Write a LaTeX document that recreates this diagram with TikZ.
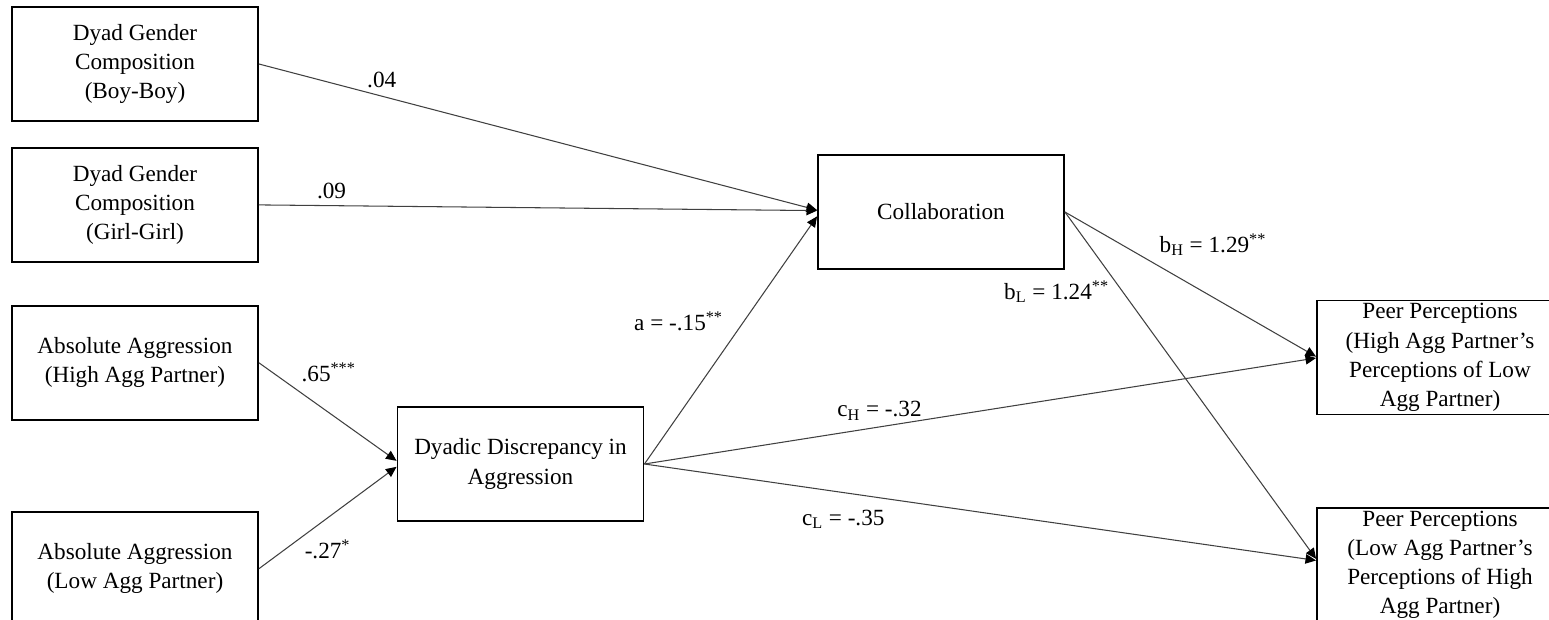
\documentclass[tikz,border=0pt]{standalone}
\usepackage{fontspec}
\setmainfont{Liberation Serif}
\usetikzlibrary{arrows.meta,positioning}

\begin{document}
\begin{tikzpicture}[
  x=0.02cm,y=-0.02cm,
  font=\fontsize{13.2}{16.6}\selectfont,
  var/.style={draw,line width=1.1pt,minimum width=4.92cm,minimum height=2.28cm,align=center,inner sep=1pt},
  eff/.style={-{Triangle[length=6pt,width=5.4pt,color=black]},line width=0.6pt,draw=black!75},
  lbl/.style={inner sep=1.5pt}
]
\useasboundingbox (0,0) rectangle (1549,619);
\clip (0,0) rectangle (1549,619);
% ---------------- predictors (left column) ----------------
\node[var] (boyboy) at (135,64) {Dyad Gender\\Composition\\(Boy-Boy)};
\node[var,below=0.5cm of boyboy] (girlgirl) {Dyad Gender\\Composition\\(Girl-Girl)};
\node[var,below=0.84cm of girlgirl] (aggHigh) {Absolute Aggression\\(High Agg Partner)};
\node[var,below=1.8cm of aggHigh] (aggLow) {Absolute Aggression\\(Low Agg Partner)};
% ---------------- discrepancy and mediator ----------------
\node[var] (discrep) at (520.5,464) {Dyadic Discrepancy in\\Aggression};
\node[var] (collab) at (941,212) {Collaboration};
% ---------------- outcomes (right column) ----------------
\node[var] (ppHigh) at (1440,357.5) {Peer Perceptions\\(High Agg Partner's\\Perceptions of Low\\Agg Partner)};
\node[var] (ppLow) at (1440,565) {Peer Perceptions\\(Low Agg Partner's\\Perceptions of High\\Agg Partner)};
% ---------------- paths ----------------
\draw[eff] (boyboy.east) -- node[lbl,pos=0.22,above=3pt]{.04} ([yshift=1.1pt]collab.west);
\draw[eff] (girlgirl.east) -- node[lbl,pos=0.13,above=2pt]{.09} ([yshift=0.8pt]collab.west);
\draw[eff] (aggHigh.east) -- node[lbl,pos=0.26,above right=3pt]{.65\textsuperscript{***}} ([yshift=1.8pt]discrep.west);
\draw[eff] (aggLow.east) -- node[lbl,pos=0.31,below right=0pt]{-.27\textsuperscript{*}} ([yshift=-1.6pt]discrep.west);
\draw[eff] (discrep.east) -- node[lbl,pos=0.575,left=10pt]{a = -.15\textsuperscript{**}} ([yshift=-2.5pt]collab.west);
\draw[eff] (collab.east) -- node[lbl,pos=0.35,above right=3pt]{b\textsubscript{H} = 1.29\textsuperscript{**}} ([yshift=0.5pt]ppHigh.west);
\draw[eff] (collab.east) -- node[lbl,pos=0.23,left=6pt]{b\textsubscript{L} = 1.24\textsuperscript{**}} ([yshift=3.5pt]ppLow.west);
\draw[eff] (discrep.east) -- node[lbl,pos=0.35,above=2pt]{c\textsubscript{H} = -.32} ([yshift=-0.3pt]ppHigh.west);
\draw[eff] (discrep.east) -- node[lbl,pos=0.296,below=8pt]{c\textsubscript{L} = -.35} ([yshift=2.6pt]ppLow.west);
\end{tikzpicture}
\end{document}
